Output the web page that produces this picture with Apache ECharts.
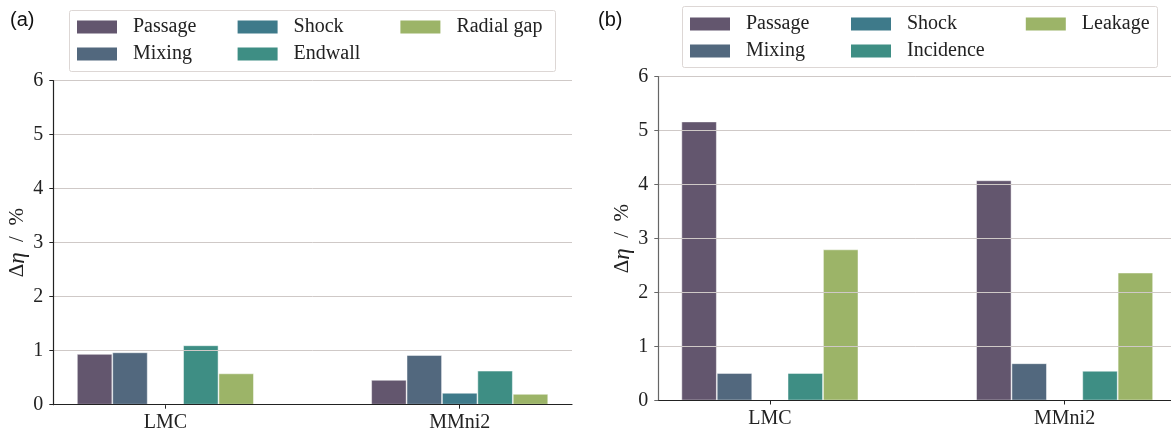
<!DOCTYPE html>
<html>
<head>
<meta charset="utf-8">
<script src="https://cdn.jsdelivr.net/npm/echarts@6/dist/echarts.min.js"></script>
<style>html,body{margin:0;padding:0;background:#fff;}#c{width:1171px;height:432px;}</style>
</head>
<body>
<div id="c"></div>
<script>
const categories = ['LMC', 'MMni2'];
const yTicks = [0, 1, 2, 3, 4, 5, 6];

// Panel (a)
const aNames = ['Passage', 'Mixing', 'Shock', 'Endwall', 'Radial gap'];
const aPassage = [0.94, 0.46];
const aMixing = [0.97, 0.92];
const aShock = [0, 0.22];
const aEndwall = [1.10, 0.63];
const aRadialGap = [0.58, 0.20];

// Panel (b)
const bNames = ['Passage', 'Mixing', 'Shock', 'Incidence', 'Leakage'];
const bPassage = [5.17, 4.08];
const bMixing = [0.51, 0.69];
const bShock = [0, 0];
const bIncidence = [0.51, 0.55];
const bLeakage = [2.80, 2.37];

const colors = ['#63566e', '#52687e', '#3e7a8a', '#3e8e84', '#9cb468'];
const SERIF = 'Liberation Serif';
const TXT = '#222';

const aData = [aPassage, aMixing, aShock, aEndwall, aRadialGap];
const bData = [bPassage, bMixing, bShock, bIncidence, bLeakage];

function frameAxes(gi, spineColor) {
  return {
    x: {
      type: 'category', gridIndex: gi, data: categories, z: 5,
      axisLine: { show: true, lineStyle: { color: TXT, width: 1.2 } },
      axisTick: { show: false }, axisLabel: { show: false }, splitLine: { show: false }
    },
    y: {
      type: 'value', gridIndex: gi, min: yTicks[0], max: yTicks[yTicks.length - 1], interval: 1, z: 5,
      axisLine: { show: true, lineStyle: { color: spineColor, width: 1.2 } },
      axisTick: { show: true, length: 4, lineStyle: { color: spineColor } },
      axisLabel: { margin: 10, fontFamily: SERIF, fontSize: 20, color: TXT },
      splitLine: { show: true, lineStyle: { color: '#cfc9c7', width: 1 } },
      name: '{a|Δ}{b|η}{a|  /  %}', nameLocation: 'middle', nameGap: 24, nameRotate: 90,
      nameTextStyle: { rich: {
        a: { fontFamily: SERIF, fontSize: 21, color: TXT },
        b: { fontFamily: SERIF, fontSize: 23, color: TXT, fontStyle: 'italic' }
      } }
    }
  };
}
function dataAxes(gi) {
  return {
    x: {
      type: 'category', gridIndex: gi, data: categories,
      axisLine: { show: false },
      axisTick: { show: true, alignWithLabel: true, length: 4, lineStyle: { color: TXT } },
      axisLabel: { margin: 8, fontFamily: SERIF, fontSize: 20, color: TXT },
      splitLine: { show: false }
    },
    y: { type: 'value', gridIndex: gi, min: 0, max: 6, interval: 1, show: false }
  };
}
const fa = frameAxes(0, TXT), da = dataAxes(1), fb = frameAxes(2, '#666'), db = dataAxes(3);

function makeSeries(names, data, axisIdx) {
  return names.map((n, i) => ({
    type: 'bar', name: n, xAxisIndex: axisIdx, yAxisIndex: axisIdx,
    data: data[i], barWidth: 35.4, barGap: '0%',
    itemStyle: { color: colors[i], borderColor: 'rgba(255,255,255,0.6)', borderWidth: 0.8 },
    emphasis: { disabled: true }
  }));
}

function legendCol(names, left, top) {
  return {
    orient: 'vertical', left: left, top: top, padding: 0, itemGap: 7,
    itemWidth: 40, itemHeight: 13, icon: 'rect', selectedMode: false,
    data: names,
    itemStyle: { borderWidth: 0 },
    textStyle: { fontFamily: SERIF, fontSize: 20, color: TXT, padding: [0, 0, 0, 11] }
  };
}

const option = {
  animation: false,
  backgroundColor: '#fff',
  grid: [
    { left: 53.3, top: 80.7, width: 518.7, height: 324, outerBoundsMode: 'none' },
    { left: 18.25, top: 80.7, width: 588.6, height: 324, outerBoundsMode: 'none' },
    { left: 658.3, top: 76.7, width: 518.4, height: 323.8, outerBoundsMode: 'none' },
    { left: 622.55, top: 76.7, width: 589.4, height: 323.8, outerBoundsMode: 'none' }
  ],
  xAxis: [fa.x, da.x, fb.x, db.x],
  yAxis: [fa.y, da.y, fb.y, db.y],
  legend: [
    legendCol([aNames[0], aNames[1]], 77, 17),
    legendCol([aNames[2], aNames[3]], 237.6, 17),
    legendCol([aNames[4]], 400.4, 17),
    legendCol([bNames[0], bNames[1]], 690, 14),
    legendCol([bNames[2], bNames[3]], 851, 14),
    legendCol([bNames[4]], 1025.8, 14)
  ],
  graphic: [
    { type: 'rect', z: 1, shape: { x: 69.5, y: 10.5, width: 486, height: 61, r: 2 },
      style: { fill: '#fff', stroke: '#ddd7d5', lineWidth: 1 } },
    { type: 'rect', z: 1, shape: { x: 682.5, y: 6.5, width: 475, height: 61, r: 2 },
      style: { fill: '#fff', stroke: '#ddd7d5', lineWidth: 1 } },
    { type: 'text', z: 1, left: 10, top: 10,
      style: { text: '(a)', fontFamily: 'Liberation Sans', fontSize: 20, fill: '#111' } },
    { type: 'text', z: 1, left: 598, top: 10,
      style: { text: '(b)', fontFamily: 'Liberation Sans', fontSize: 20, fill: '#111' } }
  ],
  series: makeSeries(aNames, aData, 1).concat(makeSeries(bNames, bData, 3))
};

const chart = echarts.init(document.getElementById('c'), null, { renderer: 'canvas' });
chart.setOption(option);
</script>
</body>
</html>
